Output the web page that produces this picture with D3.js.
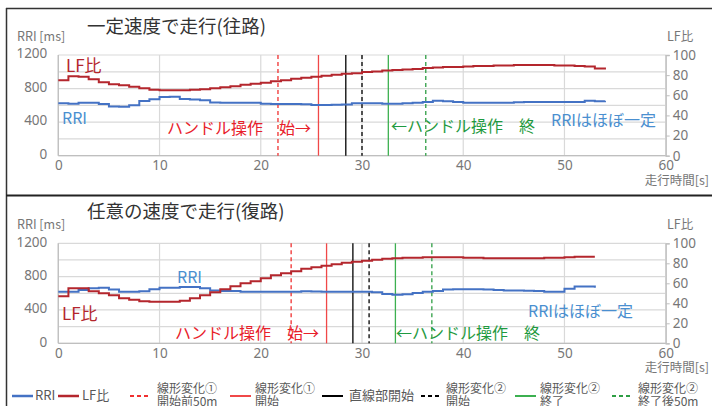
<!DOCTYPE html>
<html><head><meta charset="utf-8">
<script src="https://cdn.jsdelivr.net/npm/d3@7"></script>
<style>
body{margin:0;background:#fff;}
text{font-family:"Noto Sans CJK JP","Noto Sans",sans-serif;}
</style></head>
<body><svg id="c" width="712" height="406"></svg>
<script>
// ---------- data ----------
const xTicks = [0,10,20,30,40,50,60];
const rriTicks = [0,400,800,1200];
const rriGrid = [0,200,400,600,800,1000,1200];
const lfTicks = [0,20,40,60,80,100];

const topTime = d3.range(0,55);
const topRRI = [625,620,632,632,615,585,584,600,652,672,700,703,676,670,660,635,632,632,632,632,
  620,616,616,616,612,604,604,606,610,625,625,625,620,620,625,630,640,656,650,640,
  632,632,632,632,632,638,640,640,640,640,640,640,656,648,656];
const topLF = [75,79,78.5,76,73,71,70,68.5,67,65.5,65,65,65,65.5,66,67,68,69,70.5,71.5,
  72.5,74,75,76.5,77.5,78.5,79.5,80.5,81.5,82,83,83.5,84.5,85,85.5,86,87,87.5,88,88,
  88.5,89,89,89.5,89.5,90,90,90,90,89.5,89.5,89,88.5,86.5,85.5];
const topEvents = [21.7,25.7,28.4,30.0,32.6,36.3];

const botTime = d3.range(0,54);
const botRRI = [619,619,640,660,667,645,619,619,625,650,667,667,676,676,660,635,628,628,619,619,
  619,619,619,619,625,622,619,619,619,619,619,612,592,582,590,605,618,628,645,648,
  648,648,645,640,635,635,630,628,620,620,655,682,682,667];
const botLF = [47,55,55,52,50,48,45,43.5,42,41.5,41.5,41.5,42.5,45,48,51,54,57,60,62,
  65,68,70,72,74.5,76,77.5,79,80.5,81.5,82.5,83.5,84.5,85,85.5,85.5,86,86,86,86,
  85.5,85.5,85,85,85,85,85,85,85.5,85.5,86,86.5,86.5,86.5];
const botEvents = [23.0,26.5,29.1,30.7,33.3,36.9];

const titles = ["一定速度で走行(往路)","任意の速度で走行(復路)"];
const eventNames = [["線形変化①","開始前50m"],["線形変化①","開始"],["直線部開始"],["線形変化②","開始"],["線形変化②","終了"],["線形変化②","終了後50m"]];

// ---------- styles ----------
const C = {rri:"#4472c4", lf:"#b4262d", grid:"#d9d9d9", axis:"#bfbfbf", tick:"#777",
  redText:"#e8202a", greenText:"#1f9a40", blueText:"#4a8fd0"};
const evStyle = [
  {c:"#f03030", d:"4,3", w:1.3},
  {c:"#f04848", d:null, w:1.3},
  {c:"#000", d:null, w:1.3},
  {c:"#000", d:"4,3", w:1.3},
  {c:"#3cb050", d:null, w:1.3},
  {c:"#2e9e44", d:"4,3", w:1.3}
];

const svg = d3.select("#c");

// frames
svg.append("line").attr("x1",6).attr("x2",712).attr("y1",8.5).attr("y2",8.5).attr("stroke","#333").attr("stroke-width",1.5);
svg.append("line").attr("x1",6.5).attr("x2",6.5).attr("y1",8).attr("y2",406).attr("stroke","#333").attr("stroke-width",1.5);
svg.append("line").attr("x1",6).attr("x2",712).attr("y1",195.5).attr("y2",195.5).attr("stroke","#222").attr("stroke-width",2);

function panel(p){
  const x = d3.scaleLinear().domain([0,60]).range([58.3,665.7]);
  const y = d3.scaleLinear().domain([0,1200]).range([p.bottom,p.top]);
  const y2 = d3.scaleLinear().domain([0,100]).range([p.bottom,p.top]);
  const g = svg.append("g");
  // grid
  g.selectAll(".hg").data(rriGrid).join("line")
    .attr("x1",x(0)).attr("x2",x(60)).attr("y1",d=>y(d)).attr("y2",d=>y(d))
    .attr("stroke",C.grid).attr("stroke-width",1.2);
  g.selectAll(".vg").data(xTicks).join("line")
    .attr("x1",d=>x(d)).attr("x2",d=>x(d)).attr("y1",p.top).attr("y2",p.bottom)
    .attr("stroke",C.grid).attr("stroke-width",1.2);
  // axes lines
  g.append("line").attr("x1",x(0)).attr("x2",x(60)).attr("y1",p.bottom).attr("y2",p.bottom).attr("stroke",C.axis).attr("stroke-width",1.3);
  g.append("line").attr("x1",x(0)).attr("x2",x(0)).attr("y1",p.top).attr("y2",p.bottom).attr("stroke",C.axis).attr("stroke-width",1.3);
  // right axis
  const ra = g.append("g").attr("transform",`translate(${x(60)},0)`)
    .call(d3.axisRight(y2).tickValues(lfTicks).tickFormat(d3.format("d")).tickSize(4).tickPadding(3));
  ra.select(".domain").attr("stroke",C.axis).attr("stroke-width",1.3);
  ra.selectAll(".tick line").attr("stroke",C.axis);
  ra.selectAll("text").attr("fill",C.tick).style("font-size","13.5px").style("font-family","Noto Sans, sans-serif");
  // left axis
  const la = g.append("g").attr("transform",`translate(${x(0)},0)`)
    .call(d3.axisLeft(y).tickValues(rriTicks).tickFormat(d3.format("d")).tickSize(0).tickPadding(11));
  la.select(".domain").remove();
  la.selectAll("text").attr("fill",C.tick).style("font-size","13.5px").style("font-family","Noto Sans, sans-serif").attr("dy","0.2em");
  // bottom axis
  const ba = g.append("g").attr("transform",`translate(0,${p.bottom})`)
    .call(d3.axisBottom(x).tickValues(xTicks).tickFormat(d3.format("d")).tickSize(0).tickPadding(5));
  ba.select(".domain").remove();
  ba.selectAll("text").attr("fill",C.tick).style("font-size","13.5px").style("font-family","Noto Sans, sans-serif");
  // axis titles
  g.append("text").attr("x",17).attr("y",p.top-14).text("RRI [ms]").attr("fill",C.tick).style("font-size","12.5px");
  g.append("text").attr("x",667).attr("y",p.top-14).text("LF比").attr("fill",C.tick).style("font-size","12.5px");
  g.append("text").attr("x",709).attr("y",p.bottom+29).attr("text-anchor","end").text("走行時間[s]").attr("fill",C.tick).style("font-size","12.5px");
  // title
  g.append("text").attr("x",87).attr("y",p.titleY).text(p.title).attr("fill","#333").style("font-size","18.5px");
  // event lines
  g.selectAll(".ev").data(p.events).join("line")
    .attr("x1",d=>x(d)).attr("x2",d=>x(d)).attr("y1",p.top).attr("y2",p.bottom)
    .attr("stroke",(d,i)=>evStyle[i].c).attr("stroke-width",(d,i)=>evStyle[i].w)
    .attr("stroke-dasharray",(d,i)=>evStyle[i].d);
  // data lines
  const lineR = d3.line().x((d,i)=>x(p.time[i])).y(d=>y(d)).curve(d3.curveStepAfter);
  const lineL = d3.line().x((d,i)=>x(p.time[i])).y(d=>y2(d)).curve(d3.curveStepAfter);
  g.append("path").attr("d",lineR(p.rri)).attr("fill","none").attr("stroke",C.rri).attr("stroke-width",2);
  g.append("path").attr("d",lineL(p.lf)).attr("fill","none").attr("stroke",C.lf).attr("stroke-width",2);
  // annotations
  const ann = (tx,ax,ay,col,fs)=>g.append("text").attr("x",ax).attr("y",ay).attr("dominant-baseline","central")
      .text(tx).attr("fill",col).style("font-size",fs+"px");
  ann("LF比",p.lfLab[0],p.lfLab[1],C.lf,17);
  ann("RRI",p.rriLab[0],p.rriLab[1],C.blueText,16);
  ann("ハンドル操作　始→",p.a1[0],p.a1[1],C.redText,16);
  ann("←ハンドル操作　終",p.a2[0],p.a2[1],C.greenText,16);
  ann("RRIはほぼ一定",p.a3[0],p.a3[1],C.blueText,16);
}

panel({top:55,bottom:155.7,titleY:33,title:titles[0],events:topEvents,time:topTime,rri:topRRI,lf:topLF,
  lfLab:[66,64],rriLab:[62,117],a1:[167,126.5],a2:[391,125],a3:[551,119]});
panel({top:243.3,bottom:343.3,titleY:218,title:titles[1],events:botEvents,time:botTime,rri:botRRI,lf:botLF,
  lfLab:[62,312],rriLab:[177,276],a1:[175,331.5],a2:[396,331.5],a3:[528,310]});

// ---------- legend ----------
const lg = svg.append("g");
const legItems = [
  {x:12, c:C.rri, d:null, w:2.5, lab:["RRI"], tx:35},
  {x:58, c:C.lf, d:null, w:2.5, lab:["LF比"], tx:82},
  {x:130, c:evStyle[0].c, d:"4,3", w:2, lab:eventNames[0], tx:157},
  {x:230, c:evStyle[1].c, d:null, w:2, lab:eventNames[1], tx:255},
  {x:322, c:"#000", d:null, w:2, lab:eventNames[2], tx:349},
  {x:421, c:"#000", d:"4,3", w:2, lab:eventNames[3], tx:446},
  {x:515, c:evStyle[4].c, d:null, w:2, lab:eventNames[4], tx:540},
  {x:612, c:evStyle[5].c, d:"4,3", w:2, lab:eventNames[5], tx:638}
];
legItems.forEach(it=>{
  lg.append("line").attr("x1",it.x).attr("x2",it.x+21).attr("y1",396).attr("y2",396)
    .attr("stroke",it.c).attr("stroke-width",it.w).attr("stroke-dasharray",it.d);
  if(it.lab.length===1){
    lg.append("text").attr("x",it.tx).attr("y",394.5).attr("dominant-baseline","central").text(it.lab[0]).attr("fill","#595959").style("font-size","13px");
  } else {
    it.lab.forEach((l,i)=>lg.append("text").attr("x",it.tx).attr("y",387.5+i*12.5).attr("dominant-baseline","central").text(l).attr("fill","#595959").style("font-size","12px"));
  }
});
</script></body></html>
